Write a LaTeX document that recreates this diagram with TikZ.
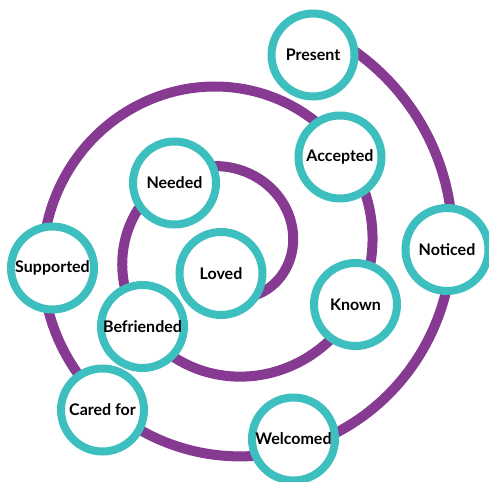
\documentclass[tikz,border=0pt]{standalone}
\usepackage{fontspec}
\setsansfont{Lato}
\definecolor{mypurple}{RGB}{135,58,145}
\definecolor{myteal}{RGB}{61,191,191}
\tikzstyle{spiral line}=[mypurple,line width=10]
\tikzstyle{word}=[circle,draw=myteal,line width=8,fill=white,minimum size=83,inner sep=0,
  font=\sffamily\bfseries\fontsize{16}{19}\selectfont]

\begin{document}
\begin{tikzpicture}[x=1pt,y=1pt]
  \useasboundingbox (-227.5,-229.5) rectangle (261.5,251.5);
  
  \def\rzero{64.5} % radius of the first turn, to the right
  \def\gap{80}     % growth of the radius per turn
  
  % SPIRAL
  \draw[spiral line] plot[domain=-100:785,samples=300,smooth] (\x:{\rzero+\x/360*\gap});
  
  % WORDS
  \foreach \name/\px/\py/\txt in {loved/-6.5/-22/Loved, needed/-53/68.5/Needed,
      befriended/-85/-75/Befriended, known/128/-53/Known, accepted/112.5/94.5/Accepted,
      supported/-175/-16.5/Supported, caredfor/-125/-158.5/Cared for,
      welcomed/66/-187.5/Welcomed, noticed/219.5/2/Noticed, present/85.5/196.5/Present}{
    \node[word] (\name) at (\px,\py) {\txt};
  }
  
\end{tikzpicture}
\end{document}
